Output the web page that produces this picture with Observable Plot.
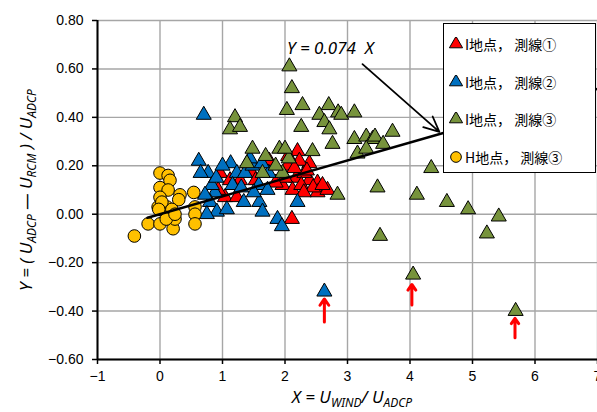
<!DOCTYPE html>
<html><head><meta charset="utf-8">
<script src="https://cdn.jsdelivr.net/npm/d3@7"></script>
<script src="https://cdn.jsdelivr.net/npm/@observablehq/plot@0.6"></script>
<style>
body{margin:0;background:#fff;}
#wrap{position:relative;width:597px;height:412px;overflow:hidden;background:#fff;}
#legend{position:absolute;left:443px;top:23px;width:153px;height:150px;box-sizing:border-box;border:1px solid #000;background:#fff;font-family:"Noto Sans CJK JP",sans-serif;font-size:14px;color:#000;}
.item{position:absolute;left:5px;height:20px;display:flex;align-items:center;white-space:nowrap;}
.item svg{margin-right:2px;}
</style></head>
<body><div id="wrap"><div id="legend"></div></div>
<script>
// Data
const xTicks = [-1, 0, 1, 2, 3, 4, 5, 6, 7];
const yTicks = [-0.6, -0.4, -0.2, 0, 0.2, 0.4, 0.6, 0.8];

// I地点，測線① (red)
const redX = [2.20, 2.39, 2.18, 2.39, 2.52, 2.52, 2.68, 2.11, 1.40, 1.47, 1.28, 1.96, 2.31, 2.12, 0.96, 1.12, 1.04, 1.23, 0.93, 2.26, 2.04, 1.75, 1.53, 2.23, 2.00, 2.15, 2.35, 2.45, 2.60, 1.85, 2.05, 2.30];
const redY = [0.26, 0.21, 0.15, 0.14, 0.13, 0.09, 0.10, -0.02, 0.21, 0.17, 0.14, 0.12, 0.17, 0.10, 0.17, 0.14, 0.07, 0.07, 0.10, 0.12, 0.20, 0.22, 0.14, 0.22, 0.15, 0.19, 0.18, 0.11, 0.12, 0.13, 0.24, 0.09];

// I地点，測線② (blue)
const blueX = [0.70, 2.63, 0.62, 0.77, 0.65, 1.13, 1.23, 0.88, 0.80, 0.91, 0.75, 1.34, 0.83, 1.16, 1.36, 1.59, 1.64, 1.88, 1.95, 1.74, 1.58, 1.72, 2.20, 1.48, 1.63, 1.07, 1.44, 0.90, 1.00, 1.50, 1.30, 0.72];
const blueY = [0.41, -0.32, 0.22, 0.17, 0.17, 0.21, 0.17, 0.09, 0.05, 0.01, 0.00, 0.05, 0.12, 0.12, 0.17, 0.05, 0.01, -0.02, -0.05, 0.17, 0.12, 0.10, 0.05, 0.20, 0.21, 0.02, 0.23, 0.15, 0.20, 0.09, 0.11, 0.08];

// I地点，測線③ (green)
const greenX = [2.07, 2.11, 2.03, 2.28, 2.70, 2.55, 2.85, 2.90, 3.11, 2.63, 2.71, 2.26, 2.76, 1.91, 2.44, 3.11, 3.30, 3.40, 3.44, 3.57, 3.72, 3.16, 3.30, 1.20, 1.12, 1.28, 1.48, 1.69, 1.39, 2.06, 1.64, 1.96, 2.84, 3.48, 3.52, 4.34, 4.11, 4.59, 4.93, 5.42, 5.23, 4.05, 5.69, 2.00, 1.85];
const greenY = [0.61, 0.52, 0.43, 0.45, 0.45, 0.41, 0.42, 0.41, 0.42, 0.38, 0.35, 0.36, 0.29, 0.27, 0.26, 0.31, 0.32, 0.31, 0.32, 0.29, 0.34, 0.25, 0.27, 0.40, 0.35, 0.36, 0.27, 0.24, 0.21, 0.23, 0.17, 0.17, 0.08, 0.11, -0.09, 0.19, 0.08, 0.05, 0.02, -0.01, -0.08, -0.25, -0.40, 0.27, 0.20];

// H地点，測線③ (yellow)
const yellowX = [0.00, 0.13, 0.16, 0.00, 0.13, 0.32, 0.54, 0.00, 0.11, 0.30, -0.03, 0.19, 0.56, 0.56, -0.19, 0.00, 0.21, 0.56, -0.41, 0.24, 0.10, 0.03, 0.24, -0.02];
const yellowY = [0.17, 0.16, 0.14, 0.11, 0.10, 0.08, 0.09, 0.07, 0.03, 0.06, 0.03, 0.02, 0.03, 0.00, -0.04, -0.04, -0.06, -0.04, -0.09, -0.02, -0.02, 0.05, 0.00, 0.02];

const slope = 0.074;
const fitX = [-0.2, 7];
const fitLabel = "Y = 0.074  X";
const labelPos = [2.03, 0.685];
const pointerArrow = [3.24, 0.62, 4.47, 0.34];
const markX = [2.63, 4.03, 5.68];
const markY1 = [-0.445, -0.375, -0.51];
const markY2 = [-0.35, -0.29, -0.43];

const seriesNames = ["I地点， 測線①", "I地点， 測線②", "I地点， 測線③", "H地点， 測線③"];
const seriesColors = ["#ff0000", "#0070c0", "#77933c", "#ffc000"];
const seriesSymbols = ["triangle", "triangle", "triangle", "circle"];

const toRows = (xs, ys) => xs.map((x, i) => ({x, y: ys[i]}));
const fitRows = fitX.map(x => ({x, y: slope * x}));
const arrows = markX.map((x, i) => ({x, y1: markY1[i], y2: markY2[i]}));
const fmtX = d => d < 0 ? "\u2212" + Math.abs(d) : String(d);
const fmtY = d => (d < 0 ? "\u2212" : "") + Math.abs(d).toFixed(2);

const dotOpts = (i) => ({x: "x", y: "y", symbol: seriesSymbols[i], r: seriesSymbols[i] === "circle" ? 6.3 : 5.6,
  fill: seriesColors[i], stroke: "black", strokeWidth: 1});

const chart = Plot.plot({
  width: 597, height: 412,
  marginLeft: 97, marginRight: 0, marginTop: 20, marginBottom: 53,
  x: {domain: [-1, 7]},
  y: {domain: [-0.6, 0.8]},
  style: {fontFamily: "'Liberation Sans', Arial, sans-serif", fontSize: "14px", background: "white", overflow: "visible", color: "black"},
  marks: [
    Plot.gridX(xTicks, {stroke: "#a6a6a6", strokeOpacity: 1, strokeWidth: 1.4}),
    Plot.gridY(yTicks, {stroke: "#a6a6a6", strokeOpacity: 1, strokeWidth: 1.4}),
    Plot.axisX(xTicks, {tickSize: 5, tickPadding: 7, tickFormat: fmtX, label: null, strokeWidth: 1.5, fontSize: 14}),
    Plot.axisY(yTicks, {tickSize: 5, tickPadding: 9, tickFormat: fmtY, label: null, strokeWidth: 1.5, fontSize: 14}),
    Plot.ruleX([-1], {stroke: "black", strokeWidth: 2}),
    Plot.ruleY([-0.6], {stroke: "black", strokeWidth: 2}),
    Plot.dot(toRows(redX, redY), dotOpts(0)),
    Plot.dot(toRows(blueX, blueY), dotOpts(1)),
    Plot.dot(toRows(greenX, greenY), dotOpts(2)),
    Plot.dot(toRows(yellowX, yellowY), dotOpts(3)),
    Plot.line(fitRows, {x: "x", y: "y", stroke: "black", strokeWidth: 2.5}),
    Plot.arrow([{x1: pointerArrow[0], y1: pointerArrow[1], x2: pointerArrow[2], y2: pointerArrow[3]}],
      {x1: "x1", y1: "y1", x2: "x2", y2: "y2", stroke: "black", strokeWidth: 1.8, headLength: 14, headAngle: 50}),
    Plot.arrow(arrows, {x1: "x", y1: "y1", x2: "x", y2: "y2", stroke: "#ff0000", strokeWidth: 3, headLength: 10, headAngle: 70}),
    Plot.text([fitLabel], {x: () => labelPos[0], y: () => labelPos[1], text: d => d, textAnchor: "start",
      fontStyle: "italic", fontSize: 17, fontFamily: "'Noto Sans', sans-serif", fill: "black"})
  ]
});

document.getElementById("wrap").prepend(chart);

// Axis titles with subscripts
const svg = d3.select(chart);
function addLabel(g, parts) {
  let prevSub = false;
  parts.forEach(([t, sub]) => {
    const dy = sub ? 4 : (prevSub ? -4 : 0);
    g.append("tspan").attr("font-size", sub ? 12 : 17).attr("dy", dy).text(t);
    prevSub = sub;
  });
}
const xl = svg.append("text").attr("x", 352).attr("y", 403).attr("text-anchor", "middle")
  .attr("font-style", "italic").attr("font-family", "'Noto Sans', sans-serif").attr("fill", "black");
addLabel(xl, [["X = U", false], ["WIND", true], ["/ U", false], ["ADCP", true]]);
const yl = svg.append("text").attr("transform", "translate(32,190) rotate(-90)").attr("text-anchor", "middle")
  .attr("font-style", "italic").attr("font-family", "'Noto Sans', sans-serif").attr("fill", "black");
addLabel(yl, [["Y = ( U", false], ["ADCP", true], [" \u2014 U", false], ["RCM", true], [" ) / U", false], ["ADCP", true]]);

// Legend
const legend = document.getElementById("legend");
seriesNames.forEach((name, i) => {
  const div = document.createElement("div");
  div.className = "item";
  div.style.top = (10 + i * 37.5) + "px";
  const sym = seriesSymbols[i] === "circle" ? d3.symbolCircle : d3.symbolTriangle;
  const size = seriesSymbols[i] === "circle" ? 90 : 75;
  div.innerHTML = `<svg width="14" height="14" viewBox="-7 -7 14 14"><path d="${d3.symbol(sym, size)()}" fill="${seriesColors[i]}" stroke="black" stroke-width="1"/></svg><span>${name}</span>`;
  legend.appendChild(div);
});
</script>
</body></html>
